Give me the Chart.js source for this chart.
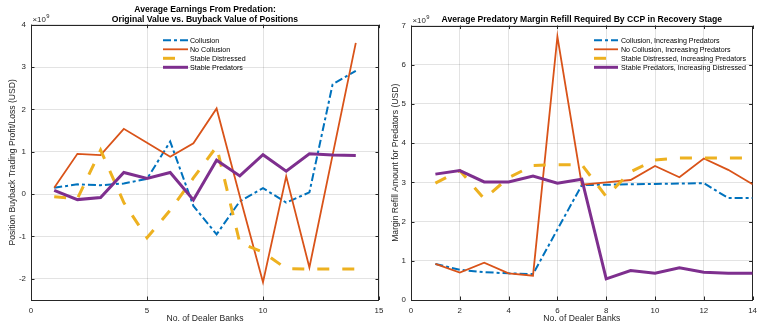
<!DOCTYPE html>
<html>
<head>
<meta charset="utf-8">
<script src="https://cdn.jsdelivr.net/npm/chart.js@4.4.1/dist/chart.umd.min.js"></script>
<style>
  html, body { margin: 0; padding: 0; background: #fff; width: 763px; height: 325px; overflow: hidden; }
  .panel { position: absolute; top: 0; height: 325px; }
  #earnPanel { left: 0; width: 400px; }
  #refillPanel { left: 381px; width: 382px; }
</style>
</head>
<body>
<div class="panel" id="earnPanel"><canvas id="earn" width="400" height="325"></canvas></div>
<div class="panel" id="refillPanel"><canvas id="refill" width="382" height="325"></canvas></div>
<script>
// Number of dealer banks (x values shared by every series)
const banks = [1, 2, 3, 4, 5, 6, 7, 8, 9, 10, 11, 12, 13, 14];

// Left panel: position buyback trading profit/loss, in units of 1e9 USD
const earnSeriesNames = ['Collusion', 'No Collusion', 'Stable Distressed', 'Stable Predators'];
const earnCollusion         = [0.15, 0.23, 0.21, 0.25, 0.36, 1.24, -0.28, -0.95, -0.17, 0.14, -0.20, 0.04, 2.59, 2.91];
const earnNoCollusion       = [0.15, 0.95, 0.92, 1.54, 1.21, 0.88, 1.20, 2.02, -0.05, -2.08, 0.42, -1.73, 0.92, 3.57];
const earnStableDistressed  = [-0.06, -0.11, 1.04, -0.20, -1.03, -0.38, 0.38, 1.12, -1.15, -1.37, -1.76, -1.77, -1.77, -1.77];
const earnStablePredators   = [0.09, -0.13, -0.08, 0.51, 0.37, 0.51, -0.14, 0.80, 0.43, 0.93, 0.54, 0.95, 0.92, 0.91];
const earnXTicks = [0, 5, 10, 15];
const earnYTicks = [-2, -1, 0, 1, 2, 3, 4];
const earnYRange = [-2.5, 4];

// Right panel: margin refill amount for predators, in units of 1e9 USD
const refillSeriesNames = ['Collusion, Increasing Predators', 'No Collusion, Increasing Predators',
                           'Stable Distressed, Increasing Predators', 'Stable Predators, Increasing Distressed'];
const refillCollusion        = [0.92, 0.77, 0.71, 0.68, 0.66, 1.80, 2.93, 2.94, 2.95, 2.96, 2.97, 2.98, 2.60, 2.60];
const refillNoCollusion      = [0.92, 0.70, 0.95, 0.68, 0.62, 6.72, 2.94, 3.00, 3.06, 3.42, 3.13, 3.61, 3.32, 2.95];
const refillStableDistressed = [2.98, 3.30, 2.58, 3.12, 3.43, 3.45, 3.45, 2.64, 3.27, 3.57, 3.62, 3.62, 3.62, 3.62];
const refillStablePredators  = [3.21, 3.30, 3.01, 3.01, 3.16, 2.98, 3.08, 0.54, 0.75, 0.68, 0.82, 0.71, 0.68, 0.68];
const refillXTicks = [0, 2, 4, 6, 8, 10, 12, 14];
const refillYTicks = [0, 1, 2, 3, 4, 5, 6, 7];
const refillYRange = [0, 7];

// Line styles (MATLAB default palette)
const lineStyles = [
  { color: '#0072BD', width: 2.0, dash: [8, 3, 3, 3] },
  { color: '#D95319', width: 1.8, dash: [] },
  { color: '#EDB120', width: 3.0, dash: [12, 13] },
  { color: '#7E2F8E', width: 3.0, dash: [] }
];

const FONT = "'Liberation Sans', Arial, Helvetica, sans-serif";
const INK = '#262626';

// Box, inward ticks and the x10^9 exponent, drawn around the plot area
const axesBox = {
  id: 'axesBox',
  beforeDatasetsDraw(chart) {
    const { ctx, chartArea: a, scales } = chart;
    const tl = 3.5;
    ctx.save();
    ctx.strokeStyle = INK;
    ctx.lineWidth = 1;
    ctx.beginPath();
    scales.x.ticks.forEach(t => {
      const px = Math.round(scales.x.getPixelForValue(t.value)) + 0.5;
      ctx.moveTo(px, a.bottom); ctx.lineTo(px, a.bottom - tl);
      ctx.moveTo(px, a.top); ctx.lineTo(px, a.top + tl);
    });
    scales.y.ticks.forEach(t => {
      const py = Math.round(scales.y.getPixelForValue(t.value)) + 0.5;
      ctx.moveTo(a.left, py); ctx.lineTo(a.left + tl, py);
      ctx.moveTo(a.right, py); ctx.lineTo(a.right - tl, py);
    });
    ctx.stroke();
    ctx.strokeRect(Math.round(a.left) + 0.5, Math.round(a.top) + 0.5,
                   Math.round(a.right - a.left) - 1, Math.round(a.bottom - a.top));
    ctx.restore();
  },
  afterDraw(chart) {
    const { ctx, chartArea: a } = chart;
    ctx.save();
    ctx.fillStyle = INK;
    ctx.textBaseline = 'middle';
    ctx.textAlign = 'left';
    ctx.font = '7.9px ' + FONT;
    ctx.fillText('\u00d710', a.left + 1.5, a.top - 4.5);
    const w = ctx.measureText('\u00d710').width;
    ctx.font = '5.8px ' + FONT;
    ctx.fillText('9', a.left + 1.8 + w, a.top - 8.5);
    ctx.restore();
  }
};

// Legend drawn as sample line + label rows, without a frame
function legendPlugin(names, sampleX0, sampleX1, textX, rowYs) {
  return {
    id: 'rowLegend',
    afterDraw(chart) {
      const ctx = chart.ctx;
      ctx.save();
      ctx.font = '7.1px ' + FONT;
      ctx.textBaseline = 'middle';
      ctx.textAlign = 'left';
      names.forEach((name, i) => {
        const s = lineStyles[i];
        const y = rowYs[i];
        ctx.strokeStyle = s.color;
        ctx.lineWidth = s.width;
        ctx.setLineDash(s.dash);
        ctx.beginPath();
        ctx.moveTo(sampleX0, y); ctx.lineTo(sampleX1, y);
        ctx.stroke();
        ctx.setLineDash([]);
        ctx.fillStyle = '#000';
        ctx.fillText(name, textX, y + 0.3);
      });
      ctx.restore();
    }
  };
}

function buildChart(canvasId, opts) {
  const datasets = opts.series.map((vals, i) => ({
    label: opts.names[i],
    data: banks.map((b, k) => ({ x: b, y: vals[k] })),
    borderColor: lineStyles[i].color,
    borderWidth: lineStyles[i].width,
    borderDash: lineStyles[i].dash,
    pointRadius: 0,
    fill: false,
    tension: 0,
    order: opts.series.length - i
  }));
  return new Chart(document.getElementById(canvasId), {
    type: 'line',
    data: { datasets },
    options: {
      responsive: false,
      animation: false,
      devicePixelRatio: 1,
      layout: { padding: { left: 0, right: opts.padRight, top: 0, bottom: 0 } },
      plugins: {
        legend: { display: false },
        tooltip: { enabled: false },
        title: {
          display: true,
          text: opts.title,
          fullSize: false,
          color: '#000',
          font: { family: FONT, size: 8.6, weight: 'bold', lineHeight: 1.2 },
          padding: opts.titlePad
        }
      },
      scales: {
        x: {
          type: 'linear',
          min: opts.xTicks[0],
          max: opts.xTicks[opts.xTicks.length - 1],
          afterBuildTicks: s => { s.ticks = opts.xTicks.map(v => ({ value: v })); },
          afterFit: s => { s.height = 25; },
          grid: { color: 'rgba(38,38,38,0.13)', lineWidth: 1, drawTicks: false },
          border: { display: false },
          ticks: { color: INK, font: { family: FONT, size: 7.9 }, padding: 6, maxRotation: 0, autoSkip: false },
          title: { display: true, text: 'No. of Dealer Banks', color: INK,
                   font: { family: FONT, size: 8.6 }, padding: { top: 0, bottom: 0.9 } }
        },
        y: {
          type: 'linear',
          min: opts.yRange[0],
          max: opts.yRange[1],
          afterBuildTicks: s => { s.ticks = opts.yTicks.map(v => ({ value: v })); },
          afterFit: s => { s.width = opts.yAxisWidth; },
          grid: { color: 'rgba(38,38,38,0.13)', lineWidth: 1, drawTicks: false },
          border: { display: false },
          ticks: { color: INK, font: { family: FONT, size: 7.9 }, padding: 5, autoSkip: false },
          title: { display: true, text: opts.yTitle, color: INK,
                   font: { family: FONT, size: 8.6 }, padding: { top: opts.yTitlePad, bottom: 0 } }
        }
      }
    },
    plugins: [axesBox, legendPlugin(opts.names, opts.legend.x0, opts.legend.x1, opts.legend.tx, [40.3, 49.3, 58.3, 67.3])]
  });
}

buildChart('earn', {
  names: earnSeriesNames,
  series: [earnCollusion, earnNoCollusion, earnStableDistressed, earnStablePredators],
  xTicks: earnXTicks, yTicks: earnYTicks, yRange: earnYRange,
  title: ['Average Earnings From Predation:', 'Original Value vs. Buyback Value of Positions'],
  titlePad: { top: 4.5, bottom: -0.5 },
  yTitle: 'Position Buyback Trading Profit/Loss (USD)',
  yTitlePad: 7.5,
  yAxisWidth: 31,
  padRight: 21,
  legend: { x0: 163, x1: 188, tx: 190 }
});

buildChart('refill', {
  names: refillSeriesNames,
  series: [refillCollusion, refillNoCollusion, refillStableDistressed, refillStablePredators],
  xTicks: refillXTicks, yTicks: refillYTicks, yRange: refillYRange,
  title: 'Average Predatory Margin Refill Required By CCP in Recovery Stage',
  titlePad: { top: 14.6, bottom: 0.6 },
  yTitle: 'Margin Refill Amount for Predators (USD)',
  yTitlePad: 9.2,
  yAxisWidth: 30,
  padRight: 5,
  legend: { x0: 213, x1: 237, tx: 240 }
});
</script>
</body>
</html>
